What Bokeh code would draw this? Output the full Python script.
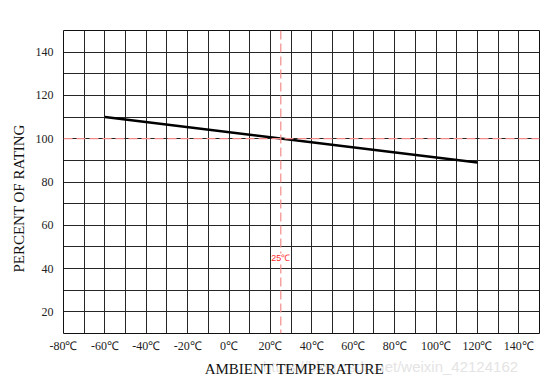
from bokeh.plotting import figure
from bokeh.models import Range1d, FixedTicker, Span, Label, LinearAxis
from bokeh.embed import file_html
from bokeh.resources import INLINE

# data
temps = [-60, 120]
percent = [110, 89]
x_ticks = [-80, -60, -40, -20, 0, 20, 40, 60, 80, 100, 120, 140]
x_tick_labels = {t: f"{t}℃" for t in x_ticks}
y_ticks = [20, 40, 60, 80, 100, 120, 140]
x_grid = list(range(-80, 151, 10))
y_grid = list(range(10, 151, 10))
ref_temp = 25
ref_pct = 100
ref_label = "25℃"
x_title = "AMBIENT TEMPERATURE"
y_title = "PERCENT OF RATING"
x_title_pos = 31.6
y_title_pos = 72.4
watermark = "https://blog.csdn.net/weixin_42124162"
watermark_pos = 78

p = figure(width=552, height=382, output_backend="svg", toolbar_location=None,
           x_range=Range1d(-80, 150), y_range=Range1d(10, 150),
           min_border_left=63, min_border_right=13, min_border_top=30, min_border_bottom=49)
p.background_fill_color = "white"
p.border_fill_color = "white"
p.outline_line_color = "#111111"
p.outline_line_width = 1


def plain(ax, font, size, color, standoff):
    ax.axis_line_color = None
    ax.major_tick_line_color = None
    ax.minor_tick_line_color = None
    ax.major_tick_out = 0
    ax.major_tick_in = 0
    ax.minor_tick_out = 0
    ax.minor_tick_in = 0
    ax.major_label_text_font = font
    ax.major_label_text_font_size = size
    ax.major_label_text_color = color
    ax.major_label_standoff = standoff


plain(p.xaxis[0], "Liberation Serif", "12px", "#222222", 5)
plain(p.yaxis[0], "Liberation Serif", "12px", "#222222", 10)
p.xaxis.ticker = FixedTicker(ticks=x_ticks)
p.xaxis.major_label_overrides = x_tick_labels
p.yaxis.ticker = FixedTicker(ticks=y_ticks)

# faint watermark along the bottom (behind the axis title)
wm = LinearAxis(ticker=FixedTicker(ticks=[watermark_pos]),
                major_label_overrides={watermark_pos: watermark})
plain(wm, "Liberation Sans", "15px", "#e4e4e4", 2)
p.add_layout(wm, "below")

# x axis title
xt = LinearAxis(ticker=FixedTicker(ticks=[x_title_pos]),
                major_label_overrides={x_title_pos: x_title})
plain(xt, "Liberation Serif", "15px", "#111111", -17)
p.add_layout(xt, "below")

# y axis title
yt = LinearAxis(ticker=FixedTicker(ticks=[y_title_pos]),
                major_label_overrides={y_title_pos: y_title},
                major_label_orientation="vertical")
plain(yt, "Liberation Serif", "15px", "#111111", 5)
p.add_layout(yt, "left")

p.xgrid.ticker = FixedTicker(ticks=x_grid)
p.ygrid.ticker = FixedTicker(ticks=y_grid)
for g in (p.xgrid[0], p.ygrid[0]):
    g.grid_line_color = "#262626"
    g.grid_line_alpha = 1
    g.grid_line_width = 1

# reference dashed lines
p.add_layout(Span(location=ref_pct, dimension="width", line_color="#f28a8a",
                  line_width=1.2, line_dash="9 4"))
p.add_layout(Span(location=ref_temp, dimension="height", line_color="#f28a8a",
                  line_width=1.2, line_dash="9 4"))

p.line(temps, percent, line_color="black", line_width=2.6)

p.add_layout(Label(x=ref_temp, y=44.7, text=ref_label, text_align="center",
                   text_baseline="middle", text_font="Liberation Sans",
                   text_font_size="9px", text_color="#ff2a2a",
                   background_fill_color="white", background_fill_alpha=1))

open("out.html", "w").write(file_html(p, INLINE))
